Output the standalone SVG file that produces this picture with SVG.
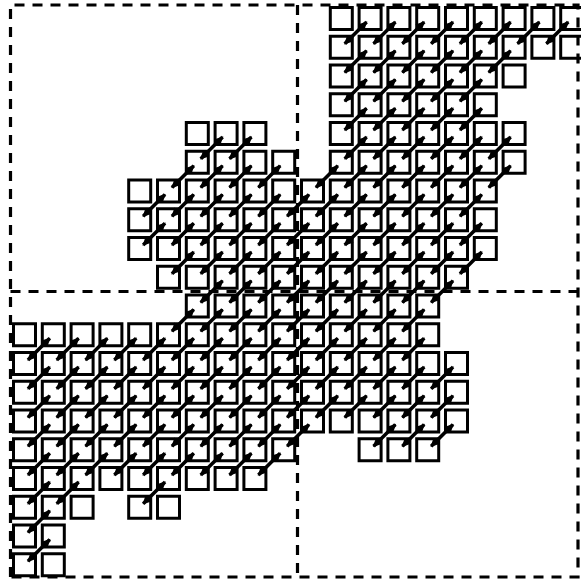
<svg xmlns="http://www.w3.org/2000/svg" width="581" height="581" viewBox="0 0 581 581">
<style>
.b{fill:none;stroke:#000;stroke-width:3.2;stroke-dasharray:10 8}
.n rect{fill:none;stroke:#000;stroke-width:3}
.k path{fill:none;stroke:#000;stroke-width:3.6;marker-start:url(#ah);marker-end:url(#ah)}
</style>
<defs>
<marker id="ah" markerUnits="userSpaceOnUse" markerWidth="9" markerHeight="9" viewBox="0 0 9 9" refX="8" refY="4.5" orient="auto-start-reverse"><path d="M0,0 L9,4.5 L0,9 z" fill="#000"/></marker>
</defs>
<rect width="581" height="581" fill="#fff"/>
<g id="frame">
<path class="b" d="M10.5,577 V5 H578 V577 H10.5"/>
<path class="b" d="M297.5,5 V577"/>
<path class="b" d="M10.5,291.5 H578"/>
</g>
<g class="n">
<g id="r0c11"><rect x="330.3" y="7.5" width="22" height="22"/></g>
<g id="r0c12"><rect x="359.1" y="7.5" width="22" height="22"/></g>
<g id="r0c13"><rect x="387.9" y="7.5" width="22" height="22"/></g>
<g id="r0c14"><rect x="416.7" y="7.5" width="22" height="22"/></g>
<g id="r0c15"><rect x="445.5" y="7.5" width="22" height="22"/></g>
<g id="r0c16"><rect x="474.3" y="7.5" width="22" height="22"/></g>
<g id="r0c17"><rect x="503.1" y="7.5" width="22" height="22"/></g>
<g id="r0c18"><rect x="531.9" y="7.5" width="22" height="22"/></g>
<g id="r0c19"><rect x="560.7" y="7.5" width="22" height="22"/></g>
<g id="r1c11"><rect x="330.3" y="36.25" width="22" height="22"/></g>
<g id="r1c12"><rect x="359.1" y="36.25" width="22" height="22"/></g>
<g id="r1c13"><rect x="387.9" y="36.25" width="22" height="22"/></g>
<g id="r1c14"><rect x="416.7" y="36.25" width="22" height="22"/></g>
<g id="r1c15"><rect x="445.5" y="36.25" width="22" height="22"/></g>
<g id="r1c16"><rect x="474.3" y="36.25" width="22" height="22"/></g>
<g id="r1c17"><rect x="503.1" y="36.25" width="22" height="22"/></g>
<g id="r1c18"><rect x="531.9" y="36.25" width="22" height="22"/></g>
<g id="r1c19"><rect x="560.7" y="36.25" width="22" height="22"/></g>
<g id="r2c11"><rect x="330.3" y="65" width="22" height="22"/></g>
<g id="r2c12"><rect x="359.1" y="65" width="22" height="22"/></g>
<g id="r2c13"><rect x="387.9" y="65" width="22" height="22"/></g>
<g id="r2c14"><rect x="416.7" y="65" width="22" height="22"/></g>
<g id="r2c15"><rect x="445.5" y="65" width="22" height="22"/></g>
<g id="r2c16"><rect x="474.3" y="65" width="22" height="22"/></g>
<g id="r2c17"><rect x="503.1" y="65" width="22" height="22"/></g>
<g id="r3c11"><rect x="330.3" y="93.75" width="22" height="22"/></g>
<g id="r3c12"><rect x="359.1" y="93.75" width="22" height="22"/></g>
<g id="r3c13"><rect x="387.9" y="93.75" width="22" height="22"/></g>
<g id="r3c14"><rect x="416.7" y="93.75" width="22" height="22"/></g>
<g id="r3c15"><rect x="445.5" y="93.75" width="22" height="22"/></g>
<g id="r3c16"><rect x="474.3" y="93.75" width="22" height="22"/></g>
<g id="r4c6"><rect x="186.3" y="122.5" width="22" height="22"/></g>
<g id="r4c7"><rect x="215.1" y="122.5" width="22" height="22"/></g>
<g id="r4c8"><rect x="243.9" y="122.5" width="22" height="22"/></g>
<g id="r4c11"><rect x="330.3" y="122.5" width="22" height="22"/></g>
<g id="r4c12"><rect x="359.1" y="122.5" width="22" height="22"/></g>
<g id="r4c13"><rect x="387.9" y="122.5" width="22" height="22"/></g>
<g id="r4c14"><rect x="416.7" y="122.5" width="22" height="22"/></g>
<g id="r4c15"><rect x="445.5" y="122.5" width="22" height="22"/></g>
<g id="r4c16"><rect x="474.3" y="122.5" width="22" height="22"/></g>
<g id="r4c17"><rect x="503.1" y="122.5" width="22" height="22"/></g>
<g id="r5c6"><rect x="186.3" y="151.25" width="22" height="22"/></g>
<g id="r5c7"><rect x="215.1" y="151.25" width="22" height="22"/></g>
<g id="r5c8"><rect x="243.9" y="151.25" width="22" height="22"/></g>
<g id="r5c9"><rect x="272.7" y="151.25" width="22" height="22"/></g>
<g id="r5c11"><rect x="330.3" y="151.25" width="22" height="22"/></g>
<g id="r5c12"><rect x="359.1" y="151.25" width="22" height="22"/></g>
<g id="r5c13"><rect x="387.9" y="151.25" width="22" height="22"/></g>
<g id="r5c14"><rect x="416.7" y="151.25" width="22" height="22"/></g>
<g id="r5c15"><rect x="445.5" y="151.25" width="22" height="22"/></g>
<g id="r5c16"><rect x="474.3" y="151.25" width="22" height="22"/></g>
<g id="r5c17"><rect x="503.1" y="151.25" width="22" height="22"/></g>
<g id="r6c4"><rect x="128.7" y="180" width="22" height="22"/></g>
<g id="r6c5"><rect x="157.5" y="180" width="22" height="22"/></g>
<g id="r6c6"><rect x="186.3" y="180" width="22" height="22"/></g>
<g id="r6c7"><rect x="215.1" y="180" width="22" height="22"/></g>
<g id="r6c8"><rect x="243.9" y="180" width="22" height="22"/></g>
<g id="r6c9"><rect x="272.7" y="180" width="22" height="22"/></g>
<g id="r6c10"><rect x="301.5" y="180" width="22" height="22"/></g>
<g id="r6c11"><rect x="330.3" y="180" width="22" height="22"/></g>
<g id="r6c12"><rect x="359.1" y="180" width="22" height="22"/></g>
<g id="r6c13"><rect x="387.9" y="180" width="22" height="22"/></g>
<g id="r6c14"><rect x="416.7" y="180" width="22" height="22"/></g>
<g id="r6c15"><rect x="445.5" y="180" width="22" height="22"/></g>
<g id="r6c16"><rect x="474.3" y="180" width="22" height="22"/></g>
<g id="r7c4"><rect x="128.7" y="208.75" width="22" height="22"/></g>
<g id="r7c5"><rect x="157.5" y="208.75" width="22" height="22"/></g>
<g id="r7c6"><rect x="186.3" y="208.75" width="22" height="22"/></g>
<g id="r7c7"><rect x="215.1" y="208.75" width="22" height="22"/></g>
<g id="r7c8"><rect x="243.9" y="208.75" width="22" height="22"/></g>
<g id="r7c9"><rect x="272.7" y="208.75" width="22" height="22"/></g>
<g id="r7c10"><rect x="301.5" y="208.75" width="22" height="22"/></g>
<g id="r7c11"><rect x="330.3" y="208.75" width="22" height="22"/></g>
<g id="r7c12"><rect x="359.1" y="208.75" width="22" height="22"/></g>
<g id="r7c13"><rect x="387.9" y="208.75" width="22" height="22"/></g>
<g id="r7c14"><rect x="416.7" y="208.75" width="22" height="22"/></g>
<g id="r7c15"><rect x="445.5" y="208.75" width="22" height="22"/></g>
<g id="r7c16"><rect x="474.3" y="208.75" width="22" height="22"/></g>
<g id="r8c4"><rect x="128.7" y="237.5" width="22" height="22"/></g>
<g id="r8c5"><rect x="157.5" y="237.5" width="22" height="22"/></g>
<g id="r8c6"><rect x="186.3" y="237.5" width="22" height="22"/></g>
<g id="r8c7"><rect x="215.1" y="237.5" width="22" height="22"/></g>
<g id="r8c8"><rect x="243.9" y="237.5" width="22" height="22"/></g>
<g id="r8c9"><rect x="272.7" y="237.5" width="22" height="22"/></g>
<g id="r8c10"><rect x="301.5" y="237.5" width="22" height="22"/></g>
<g id="r8c11"><rect x="330.3" y="237.5" width="22" height="22"/></g>
<g id="r8c12"><rect x="359.1" y="237.5" width="22" height="22"/></g>
<g id="r8c13"><rect x="387.9" y="237.5" width="22" height="22"/></g>
<g id="r8c14"><rect x="416.7" y="237.5" width="22" height="22"/></g>
<g id="r8c15"><rect x="445.5" y="237.5" width="22" height="22"/></g>
<g id="r8c16"><rect x="474.3" y="237.5" width="22" height="22"/></g>
<g id="r9c5"><rect x="157.5" y="266.25" width="22" height="22"/></g>
<g id="r9c6"><rect x="186.3" y="266.25" width="22" height="22"/></g>
<g id="r9c7"><rect x="215.1" y="266.25" width="22" height="22"/></g>
<g id="r9c8"><rect x="243.9" y="266.25" width="22" height="22"/></g>
<g id="r9c9"><rect x="272.7" y="266.25" width="22" height="22"/></g>
<g id="r9c10"><rect x="301.5" y="266.25" width="22" height="22"/></g>
<g id="r9c11"><rect x="330.3" y="266.25" width="22" height="22"/></g>
<g id="r9c12"><rect x="359.1" y="266.25" width="22" height="22"/></g>
<g id="r9c13"><rect x="387.9" y="266.25" width="22" height="22"/></g>
<g id="r9c14"><rect x="416.7" y="266.25" width="22" height="22"/></g>
<g id="r9c15"><rect x="445.5" y="266.25" width="22" height="22"/></g>
<g id="r10c6"><rect x="186.3" y="295" width="22" height="22"/></g>
<g id="r10c7"><rect x="215.1" y="295" width="22" height="22"/></g>
<g id="r10c8"><rect x="243.9" y="295" width="22" height="22"/></g>
<g id="r10c9"><rect x="272.7" y="295" width="22" height="22"/></g>
<g id="r10c10"><rect x="301.5" y="295" width="22" height="22"/></g>
<g id="r10c11"><rect x="330.3" y="295" width="22" height="22"/></g>
<g id="r10c12"><rect x="359.1" y="295" width="22" height="22"/></g>
<g id="r10c13"><rect x="387.9" y="295" width="22" height="22"/></g>
<g id="r10c14"><rect x="416.7" y="295" width="22" height="22"/></g>
<g id="r11c0"><rect x="13.5" y="323.75" width="22" height="22"/></g>
<g id="r11c1"><rect x="42.3" y="323.75" width="22" height="22"/></g>
<g id="r11c2"><rect x="71.1" y="323.75" width="22" height="22"/></g>
<g id="r11c3"><rect x="99.9" y="323.75" width="22" height="22"/></g>
<g id="r11c4"><rect x="128.7" y="323.75" width="22" height="22"/></g>
<g id="r11c5"><rect x="157.5" y="323.75" width="22" height="22"/></g>
<g id="r11c6"><rect x="186.3" y="323.75" width="22" height="22"/></g>
<g id="r11c7"><rect x="215.1" y="323.75" width="22" height="22"/></g>
<g id="r11c8"><rect x="243.9" y="323.75" width="22" height="22"/></g>
<g id="r11c9"><rect x="272.7" y="323.75" width="22" height="22"/></g>
<g id="r11c10"><rect x="301.5" y="323.75" width="22" height="22"/></g>
<g id="r11c11"><rect x="330.3" y="323.75" width="22" height="22"/></g>
<g id="r11c12"><rect x="359.1" y="323.75" width="22" height="22"/></g>
<g id="r11c13"><rect x="387.9" y="323.75" width="22" height="22"/></g>
<g id="r11c14"><rect x="416.7" y="323.75" width="22" height="22"/></g>
<g id="r12c0"><rect x="13.5" y="352.5" width="22" height="22"/></g>
<g id="r12c1"><rect x="42.3" y="352.5" width="22" height="22"/></g>
<g id="r12c2"><rect x="71.1" y="352.5" width="22" height="22"/></g>
<g id="r12c3"><rect x="99.9" y="352.5" width="22" height="22"/></g>
<g id="r12c4"><rect x="128.7" y="352.5" width="22" height="22"/></g>
<g id="r12c5"><rect x="157.5" y="352.5" width="22" height="22"/></g>
<g id="r12c6"><rect x="186.3" y="352.5" width="22" height="22"/></g>
<g id="r12c7"><rect x="215.1" y="352.5" width="22" height="22"/></g>
<g id="r12c8"><rect x="243.9" y="352.5" width="22" height="22"/></g>
<g id="r12c9"><rect x="272.7" y="352.5" width="22" height="22"/></g>
<g id="r12c10"><rect x="301.5" y="352.5" width="22" height="22"/></g>
<g id="r12c11"><rect x="330.3" y="352.5" width="22" height="22"/></g>
<g id="r12c12"><rect x="359.1" y="352.5" width="22" height="22"/></g>
<g id="r12c13"><rect x="387.9" y="352.5" width="22" height="22"/></g>
<g id="r12c14"><rect x="416.7" y="352.5" width="22" height="22"/></g>
<g id="r12c15"><rect x="445.5" y="352.5" width="22" height="22"/></g>
<g id="r13c0"><rect x="13.5" y="381.25" width="22" height="22"/></g>
<g id="r13c1"><rect x="42.3" y="381.25" width="22" height="22"/></g>
<g id="r13c2"><rect x="71.1" y="381.25" width="22" height="22"/></g>
<g id="r13c3"><rect x="99.9" y="381.25" width="22" height="22"/></g>
<g id="r13c4"><rect x="128.7" y="381.25" width="22" height="22"/></g>
<g id="r13c5"><rect x="157.5" y="381.25" width="22" height="22"/></g>
<g id="r13c6"><rect x="186.3" y="381.25" width="22" height="22"/></g>
<g id="r13c7"><rect x="215.1" y="381.25" width="22" height="22"/></g>
<g id="r13c8"><rect x="243.9" y="381.25" width="22" height="22"/></g>
<g id="r13c9"><rect x="272.7" y="381.25" width="22" height="22"/></g>
<g id="r13c10"><rect x="301.5" y="381.25" width="22" height="22"/></g>
<g id="r13c11"><rect x="330.3" y="381.25" width="22" height="22"/></g>
<g id="r13c12"><rect x="359.1" y="381.25" width="22" height="22"/></g>
<g id="r13c13"><rect x="387.9" y="381.25" width="22" height="22"/></g>
<g id="r13c14"><rect x="416.7" y="381.25" width="22" height="22"/></g>
<g id="r13c15"><rect x="445.5" y="381.25" width="22" height="22"/></g>
<g id="r14c0"><rect x="13.5" y="410" width="22" height="22"/></g>
<g id="r14c1"><rect x="42.3" y="410" width="22" height="22"/></g>
<g id="r14c2"><rect x="71.1" y="410" width="22" height="22"/></g>
<g id="r14c3"><rect x="99.9" y="410" width="22" height="22"/></g>
<g id="r14c4"><rect x="128.7" y="410" width="22" height="22"/></g>
<g id="r14c5"><rect x="157.5" y="410" width="22" height="22"/></g>
<g id="r14c6"><rect x="186.3" y="410" width="22" height="22"/></g>
<g id="r14c7"><rect x="215.1" y="410" width="22" height="22"/></g>
<g id="r14c8"><rect x="243.9" y="410" width="22" height="22"/></g>
<g id="r14c9"><rect x="272.7" y="410" width="22" height="22"/></g>
<g id="r14c10"><rect x="301.5" y="410" width="22" height="22"/></g>
<g id="r14c11"><rect x="330.3" y="410" width="22" height="22"/></g>
<g id="r14c12"><rect x="359.1" y="410" width="22" height="22"/></g>
<g id="r14c13"><rect x="387.9" y="410" width="22" height="22"/></g>
<g id="r14c14"><rect x="416.7" y="410" width="22" height="22"/></g>
<g id="r14c15"><rect x="445.5" y="410" width="22" height="22"/></g>
<g id="r15c0"><rect x="13.5" y="438.75" width="22" height="22"/></g>
<g id="r15c1"><rect x="42.3" y="438.75" width="22" height="22"/></g>
<g id="r15c2"><rect x="71.1" y="438.75" width="22" height="22"/></g>
<g id="r15c3"><rect x="99.9" y="438.75" width="22" height="22"/></g>
<g id="r15c4"><rect x="128.7" y="438.75" width="22" height="22"/></g>
<g id="r15c5"><rect x="157.5" y="438.75" width="22" height="22"/></g>
<g id="r15c6"><rect x="186.3" y="438.75" width="22" height="22"/></g>
<g id="r15c7"><rect x="215.1" y="438.75" width="22" height="22"/></g>
<g id="r15c8"><rect x="243.9" y="438.75" width="22" height="22"/></g>
<g id="r15c9"><rect x="272.7" y="438.75" width="22" height="22"/></g>
<g id="r15c12"><rect x="359.1" y="438.75" width="22" height="22"/></g>
<g id="r15c13"><rect x="387.9" y="438.75" width="22" height="22"/></g>
<g id="r15c14"><rect x="416.7" y="438.75" width="22" height="22"/></g>
<g id="r16c0"><rect x="13.5" y="467.5" width="22" height="22"/></g>
<g id="r16c1"><rect x="42.3" y="467.5" width="22" height="22"/></g>
<g id="r16c2"><rect x="71.1" y="467.5" width="22" height="22"/></g>
<g id="r16c3"><rect x="99.9" y="467.5" width="22" height="22"/></g>
<g id="r16c4"><rect x="128.7" y="467.5" width="22" height="22"/></g>
<g id="r16c5"><rect x="157.5" y="467.5" width="22" height="22"/></g>
<g id="r16c6"><rect x="186.3" y="467.5" width="22" height="22"/></g>
<g id="r16c7"><rect x="215.1" y="467.5" width="22" height="22"/></g>
<g id="r16c8"><rect x="243.9" y="467.5" width="22" height="22"/></g>
<g id="r17c0"><rect x="13.5" y="496.25" width="22" height="22"/></g>
<g id="r17c1"><rect x="42.3" y="496.25" width="22" height="22"/></g>
<g id="r17c2"><rect x="71.1" y="496.25" width="22" height="22"/></g>
<g id="r17c4"><rect x="128.7" y="496.25" width="22" height="22"/></g>
<g id="r17c5"><rect x="157.5" y="496.25" width="22" height="22"/></g>
<g id="r18c0"><rect x="13.5" y="525" width="22" height="22"/></g>
<g id="r18c1"><rect x="42.3" y="525" width="22" height="22"/></g>
<g id="r19c0"><rect x="13.5" y="553.75" width="22" height="22"/></g>
<g id="r19c1"><rect x="42.3" y="553.75" width="22" height="22"/></g>
</g>
<g class="k" id="connectors">
<path d="M366.6,22l-21.8,21.75"/><path d="M395.4,22l-21.8,21.75"/><path d="M424.2,22l-21.8,21.75"/><path d="M453,22l-21.8,21.75"/><path d="M481.8,22l-21.8,21.75"/><path d="M510.6,22l-21.8,21.75"/><path d="M539.4,22l-21.8,21.75"/><path d="M568.2,22l-21.8,21.75"/>
<path d="M366.6,50.75l-21.8,21.75"/><path d="M395.4,50.75l-21.8,21.75"/><path d="M424.2,50.75l-21.8,21.75"/><path d="M453,50.75l-21.8,21.75"/><path d="M481.8,50.75l-21.8,21.75"/><path d="M510.6,50.75l-21.8,21.75"/>
<path d="M366.6,79.5l-21.8,21.75"/><path d="M395.4,79.5l-21.8,21.75"/><path d="M424.2,79.5l-21.8,21.75"/><path d="M453,79.5l-21.8,21.75"/><path d="M481.8,79.5l-21.8,21.75"/>
<path d="M366.6,108.25l-21.8,21.75"/><path d="M395.4,108.25l-21.8,21.75"/><path d="M424.2,108.25l-21.8,21.75"/><path d="M453,108.25l-21.8,21.75"/><path d="M481.8,108.25l-21.8,21.75"/>
<path d="M222.6,137l-21.8,21.75"/><path d="M251.4,137l-21.8,21.75"/><path d="M366.6,137l-21.8,21.75"/><path d="M395.4,137l-21.8,21.75"/><path d="M424.2,137l-21.8,21.75"/><path d="M453,137l-21.8,21.75"/><path d="M481.8,137l-21.8,21.75"/><path d="M510.6,137l-21.8,21.75"/>
<path d="M193.8,165.75l-21.8,21.75"/><path d="M222.6,165.75l-21.8,21.75"/><path d="M251.4,165.75l-21.8,21.75"/><path d="M280.2,165.75l-21.8,21.75"/><path d="M337.8,165.75l-21.8,21.75"/><path d="M366.6,165.75l-21.8,21.75"/><path d="M395.4,165.75l-21.8,21.75"/><path d="M424.2,165.75l-21.8,21.75"/><path d="M453,165.75l-21.8,21.75"/><path d="M481.8,165.75l-21.8,21.75"/><path d="M510.6,165.75l-21.8,21.75"/>
<path d="M165,194.5l-21.8,21.75"/><path d="M193.8,194.5l-21.8,21.75"/><path d="M222.6,194.5l-21.8,21.75"/><path d="M251.4,194.5l-21.8,21.75"/><path d="M280.2,194.5l-21.8,21.75"/><path d="M309,194.5l-21.8,21.75"/><path d="M337.8,194.5l-21.8,21.75"/><path d="M366.6,194.5l-21.8,21.75"/><path d="M395.4,194.5l-21.8,21.75"/><path d="M424.2,194.5l-21.8,21.75"/><path d="M453,194.5l-21.8,21.75"/><path d="M481.8,194.5l-21.8,21.75"/>
<path d="M165,223.25l-21.8,21.75"/><path d="M193.8,223.25l-21.8,21.75"/><path d="M222.6,223.25l-21.8,21.75"/><path d="M251.4,223.25l-21.8,21.75"/><path d="M280.2,223.25l-21.8,21.75"/><path d="M309,223.25l-21.8,21.75"/><path d="M337.8,223.25l-21.8,21.75"/><path d="M366.6,223.25l-21.8,21.75"/><path d="M395.4,223.25l-21.8,21.75"/><path d="M424.2,223.25l-21.8,21.75"/><path d="M453,223.25l-21.8,21.75"/><path d="M481.8,223.25l-21.8,21.75"/>
<path d="M193.8,252l-21.8,21.75"/><path d="M222.6,252l-21.8,21.75"/><path d="M251.4,252l-21.8,21.75"/><path d="M280.2,252l-21.8,21.75"/><path d="M309,252l-21.8,21.75"/><path d="M337.8,252l-21.8,21.75"/><path d="M366.6,252l-21.8,21.75"/><path d="M395.4,252l-21.8,21.75"/><path d="M424.2,252l-21.8,21.75"/><path d="M453,252l-21.8,21.75"/><path d="M481.8,252l-21.8,21.75"/>
<path d="M222.6,280.75l-21.8,21.75"/><path d="M251.4,280.75l-21.8,21.75"/><path d="M280.2,280.75l-21.8,21.75"/><path d="M309,280.75l-21.8,21.75"/><path d="M337.8,280.75l-21.8,21.75"/><path d="M366.6,280.75l-21.8,21.75"/><path d="M395.4,280.75l-21.8,21.75"/><path d="M424.2,280.75l-21.8,21.75"/><path d="M453,280.75l-21.8,21.75"/>
<path d="M193.8,309.5l-21.8,21.75"/><path d="M222.6,309.5l-21.8,21.75"/><path d="M251.4,309.5l-21.8,21.75"/><path d="M280.2,309.5l-21.8,21.75"/><path d="M309,309.5l-21.8,21.75"/><path d="M337.8,309.5l-21.8,21.75"/><path d="M366.6,309.5l-21.8,21.75"/><path d="M395.4,309.5l-21.8,21.75"/><path d="M424.2,309.5l-21.8,21.75"/>
<path d="M49.8,338.25l-21.8,21.75"/><path d="M78.6,338.25l-21.8,21.75"/><path d="M107.4,338.25l-21.8,21.75"/><path d="M136.2,338.25l-21.8,21.75"/><path d="M165,338.25l-21.8,21.75"/><path d="M193.8,338.25l-21.8,21.75"/><path d="M222.6,338.25l-21.8,21.75"/><path d="M251.4,338.25l-21.8,21.75"/><path d="M280.2,338.25l-21.8,21.75"/><path d="M309,338.25l-21.8,21.75"/><path d="M337.8,338.25l-21.8,21.75"/><path d="M366.6,338.25l-21.8,21.75"/><path d="M395.4,338.25l-21.8,21.75"/><path d="M424.2,338.25l-21.8,21.75"/>
<path d="M49.8,367l-21.8,21.75"/><path d="M78.6,367l-21.8,21.75"/><path d="M107.4,367l-21.8,21.75"/><path d="M136.2,367l-21.8,21.75"/><path d="M165,367l-21.8,21.75"/><path d="M193.8,367l-21.8,21.75"/><path d="M222.6,367l-21.8,21.75"/><path d="M251.4,367l-21.8,21.75"/><path d="M280.2,367l-21.8,21.75"/><path d="M309,367l-21.8,21.75"/><path d="M337.8,367l-21.8,21.75"/><path d="M366.6,367l-21.8,21.75"/><path d="M395.4,367l-21.8,21.75"/><path d="M424.2,367l-21.8,21.75"/><path d="M453,367l-21.8,21.75"/>
<path d="M49.8,395.75l-21.8,21.75"/><path d="M78.6,395.75l-21.8,21.75"/><path d="M107.4,395.75l-21.8,21.75"/><path d="M136.2,395.75l-21.8,21.75"/><path d="M165,395.75l-21.8,21.75"/><path d="M193.8,395.75l-21.8,21.75"/><path d="M222.6,395.75l-21.8,21.75"/><path d="M251.4,395.75l-21.8,21.75"/><path d="M280.2,395.75l-21.8,21.75"/><path d="M309,395.75l-21.8,21.75"/><path d="M337.8,395.75l-21.8,21.75"/><path d="M366.6,395.75l-21.8,21.75"/><path d="M395.4,395.75l-21.8,21.75"/><path d="M424.2,395.75l-21.8,21.75"/><path d="M453,395.75l-21.8,21.75"/>
<path d="M49.8,424.5l-21.8,21.75"/><path d="M78.6,424.5l-21.8,21.75"/><path d="M107.4,424.5l-21.8,21.75"/><path d="M136.2,424.5l-21.8,21.75"/><path d="M165,424.5l-21.8,21.75"/><path d="M193.8,424.5l-21.8,21.75"/><path d="M222.6,424.5l-21.8,21.75"/><path d="M251.4,424.5l-21.8,21.75"/><path d="M280.2,424.5l-21.8,21.75"/><path d="M309,424.5l-21.8,21.75"/><path d="M395.4,424.5l-21.8,21.75"/><path d="M424.2,424.5l-21.8,21.75"/><path d="M453,424.5l-21.8,21.75"/>
<path d="M49.8,453.25l-21.8,21.75"/><path d="M78.6,453.25l-21.8,21.75"/><path d="M107.4,453.25l-21.8,21.75"/><path d="M136.2,453.25l-21.8,21.75"/><path d="M165,453.25l-21.8,21.75"/><path d="M193.8,453.25l-21.8,21.75"/><path d="M222.6,453.25l-21.8,21.75"/><path d="M251.4,453.25l-21.8,21.75"/><path d="M280.2,453.25l-21.8,21.75"/>
<path d="M49.8,482l-21.8,21.75"/><path d="M78.6,482l-21.8,21.75"/><path d="M165,482l-21.8,21.75"/>
<path d="M49.8,510.75l-21.8,21.75"/>
<path d="M49.8,539.5l-21.8,21.75"/>
</g>
</svg>
